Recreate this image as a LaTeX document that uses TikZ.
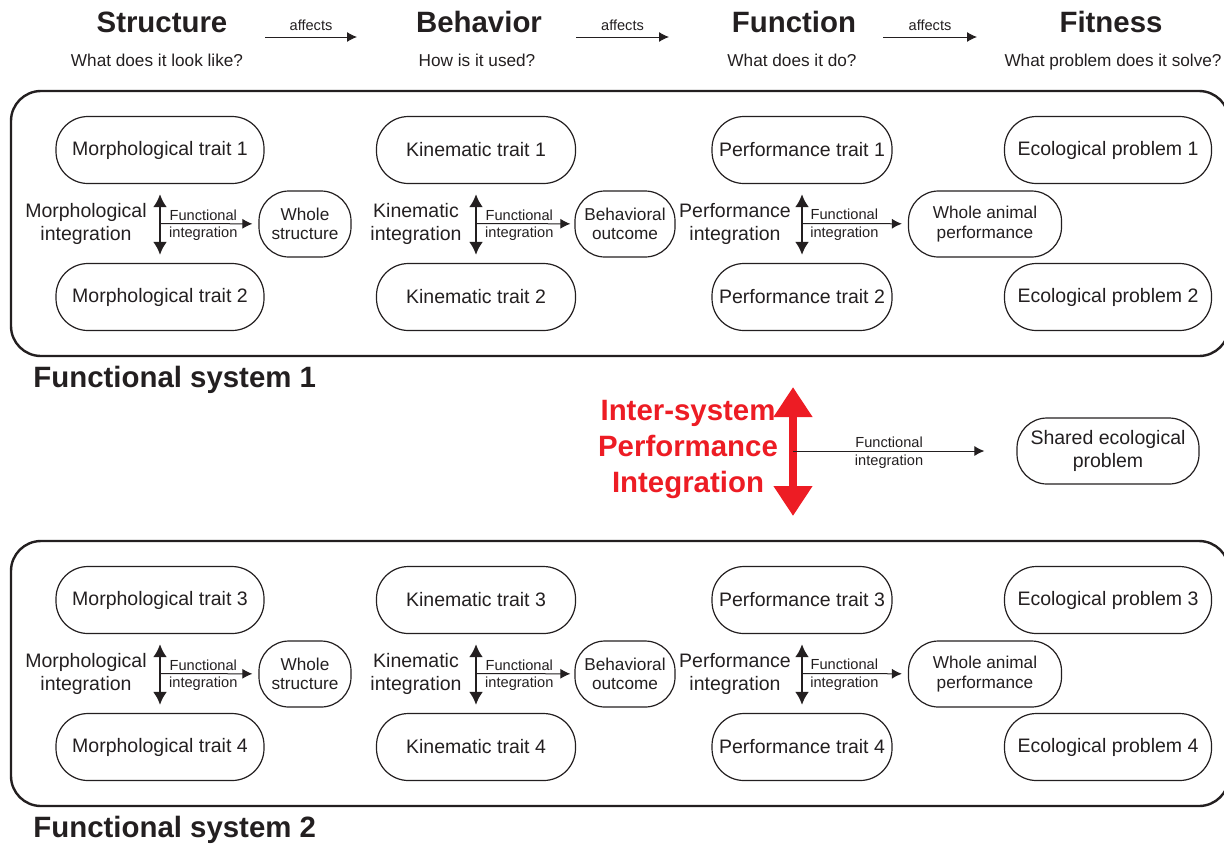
\documentclass[tikz,border=0pt]{standalone}
\usepackage{fontspec}
\setmainfont{Liberation Sans}
\usetikzlibrary{arrows.meta}
\definecolor{ink}{HTML}{231F20}
\definecolor{alarm}{HTML}{ED1C24}
\begin{document}
\begin{tikzpicture}[x=0.5pt,y=-0.5pt,font=\fontsize{9.75}{11.5}\selectfont,text=ink,line join=round,
  trait/.style={draw=ink,line width=0.6pt,rounded corners=16pt,minimum height=33.5pt,inner sep=0pt},
  whole/.style={trait,rounded corners=15pt,minimum height=33pt,align=center,font=\fontsize{8.6}{9.8}\selectfont},
  head/.style={font=\bfseries\fontsize{14.7}{18}\selectfont},
  ask/.style={font=\fontsize{8.6}{10}\selectfont,anchor=base},
  tiny/.style={font=\fontsize{7.3}{8.2}\selectfont,inner sep=1.5pt},
  link/.style={draw=ink,line width=0.5pt,-{Latex[length=5pt,width=5pt]}},
  both/.style={draw=ink,line width=1.3pt,{Latex[length=6.5pt,width=7pt]}-{Latex[length=6.5pt,width=7pt]}}]
\useasboundingbox(0,0)rectangle(1224,847);
% column heads
\foreach \n/\q/\x/\qx in{Structure/What does it look like?/162/157,Behavior/How is it used?/479/477,Function/What does it do?/794/792,Fitness/What problem does it solve?/1111/1113}{
  \node[head](h\n)at(\x,22){\n};
  \node[ask](q\n)at(\qx,66){\q};}
\foreach \i/\l/\r in{1/265/357,2/576/669,3/883/977}{
  \coordinate(al\i)at(\l,37);\coordinate(ar\i)at(\r,37);
  \draw[link](al\i)--node[above,tiny,inner sep=3pt]{affects}(ar\i);}
% two functional systems
\foreach \s/\o/\a/\b in{1/0/1/2,2/450/3/4}{
  \draw[ink,line width=1.2pt,rounded corners=15pt](11,91+\o)rectangle(1229,356+\o);
  \node[head,anchor=west,inner sep=0pt](fs\s)at(33,380+\o){Functional system \s};
  \foreach \t/\y in{\a/150,\b/297}{
    \node[trait,minimum width=104pt](m\t)at(160,\y+\o){Morphological trait \t};
    \node[trait,minimum width=99.5pt](k\t)at(476,\y+\o){Kinematic trait \t};
    \node[trait,minimum width=90pt](p\t)at(802,\y+\o){Performance trait \t};
    \node[trait,minimum width=103.5pt](e\t)at(1108,\y+\o){Ecological problem \t};}
  \node[align=center](mi\s)at(86,224+\o){Morphological\\integration};
  \node[align=center](ki\s)at(416,224+\o){Kinematic\\integration};
  \node[align=center](pi\s)at(735,224+\o){Performance\\integration};
  \node[whole,minimum width=46pt](ws\s)at(305,224+\o){Whole\\structure};
  \node[whole,minimum width=50pt](bo\s)at(625,224+\o){Behavioral\\outcome};
  \node[whole,minimum width=76.5pt](wa\s)at(985,224+\o){Whole animal\\performance};
  \draw[both,shorten <=5pt,shorten >=4pt](m\a.south)--coordinate(mc\s)(m\b.north);
  \draw[both,shorten <=5pt,shorten >=4pt](k\a.south)--coordinate(kc\s)(k\b.north);
  \draw[both,shorten <=5pt,shorten >=4pt](p\a.south)--coordinate(pc\s)(p\b.north);
  \draw[link,shorten >=3pt](mc\s)--node[above,tiny,pos=.44]{Functional}node[below,tiny,pos=.44]{integration}(ws\s);
  \draw[link,shorten >=2pt](kc\s)--node[above,tiny,pos=.44]{Functional}node[below,tiny,pos=.44]{integration}(bo\s);
  \draw[link,shorten >=3pt](pc\s)--node[above,tiny,pos=.40]{Functional}node[below,tiny,pos=.40]{integration}(wa\s);}
% inter-system link
\node[text=alarm,align=center,head](ip)at(688,449){Inter-system\\Performance\\Integration};
\coordinate(rt)at(793,387);\coordinate(rb)at(793,516);\coordinate(rm)at(793,451);
\draw[alarm,line width=4pt,{Triangle[length=15pt,width=18.5pt]}-{Triangle[length=15pt,width=18.5pt]}](rt)--(rb);
\node[whole,font=\fontsize{9.75}{11.5}\selectfont,minimum width=91pt](se)at(1108,451){Shared ecological\\problem};
\draw[link,shorten >=16pt](rm)--node[above,tiny,pos=.43]{Functional}node[below,tiny,pos=.43]{integration}(se);
\end{tikzpicture}
\end{document}
